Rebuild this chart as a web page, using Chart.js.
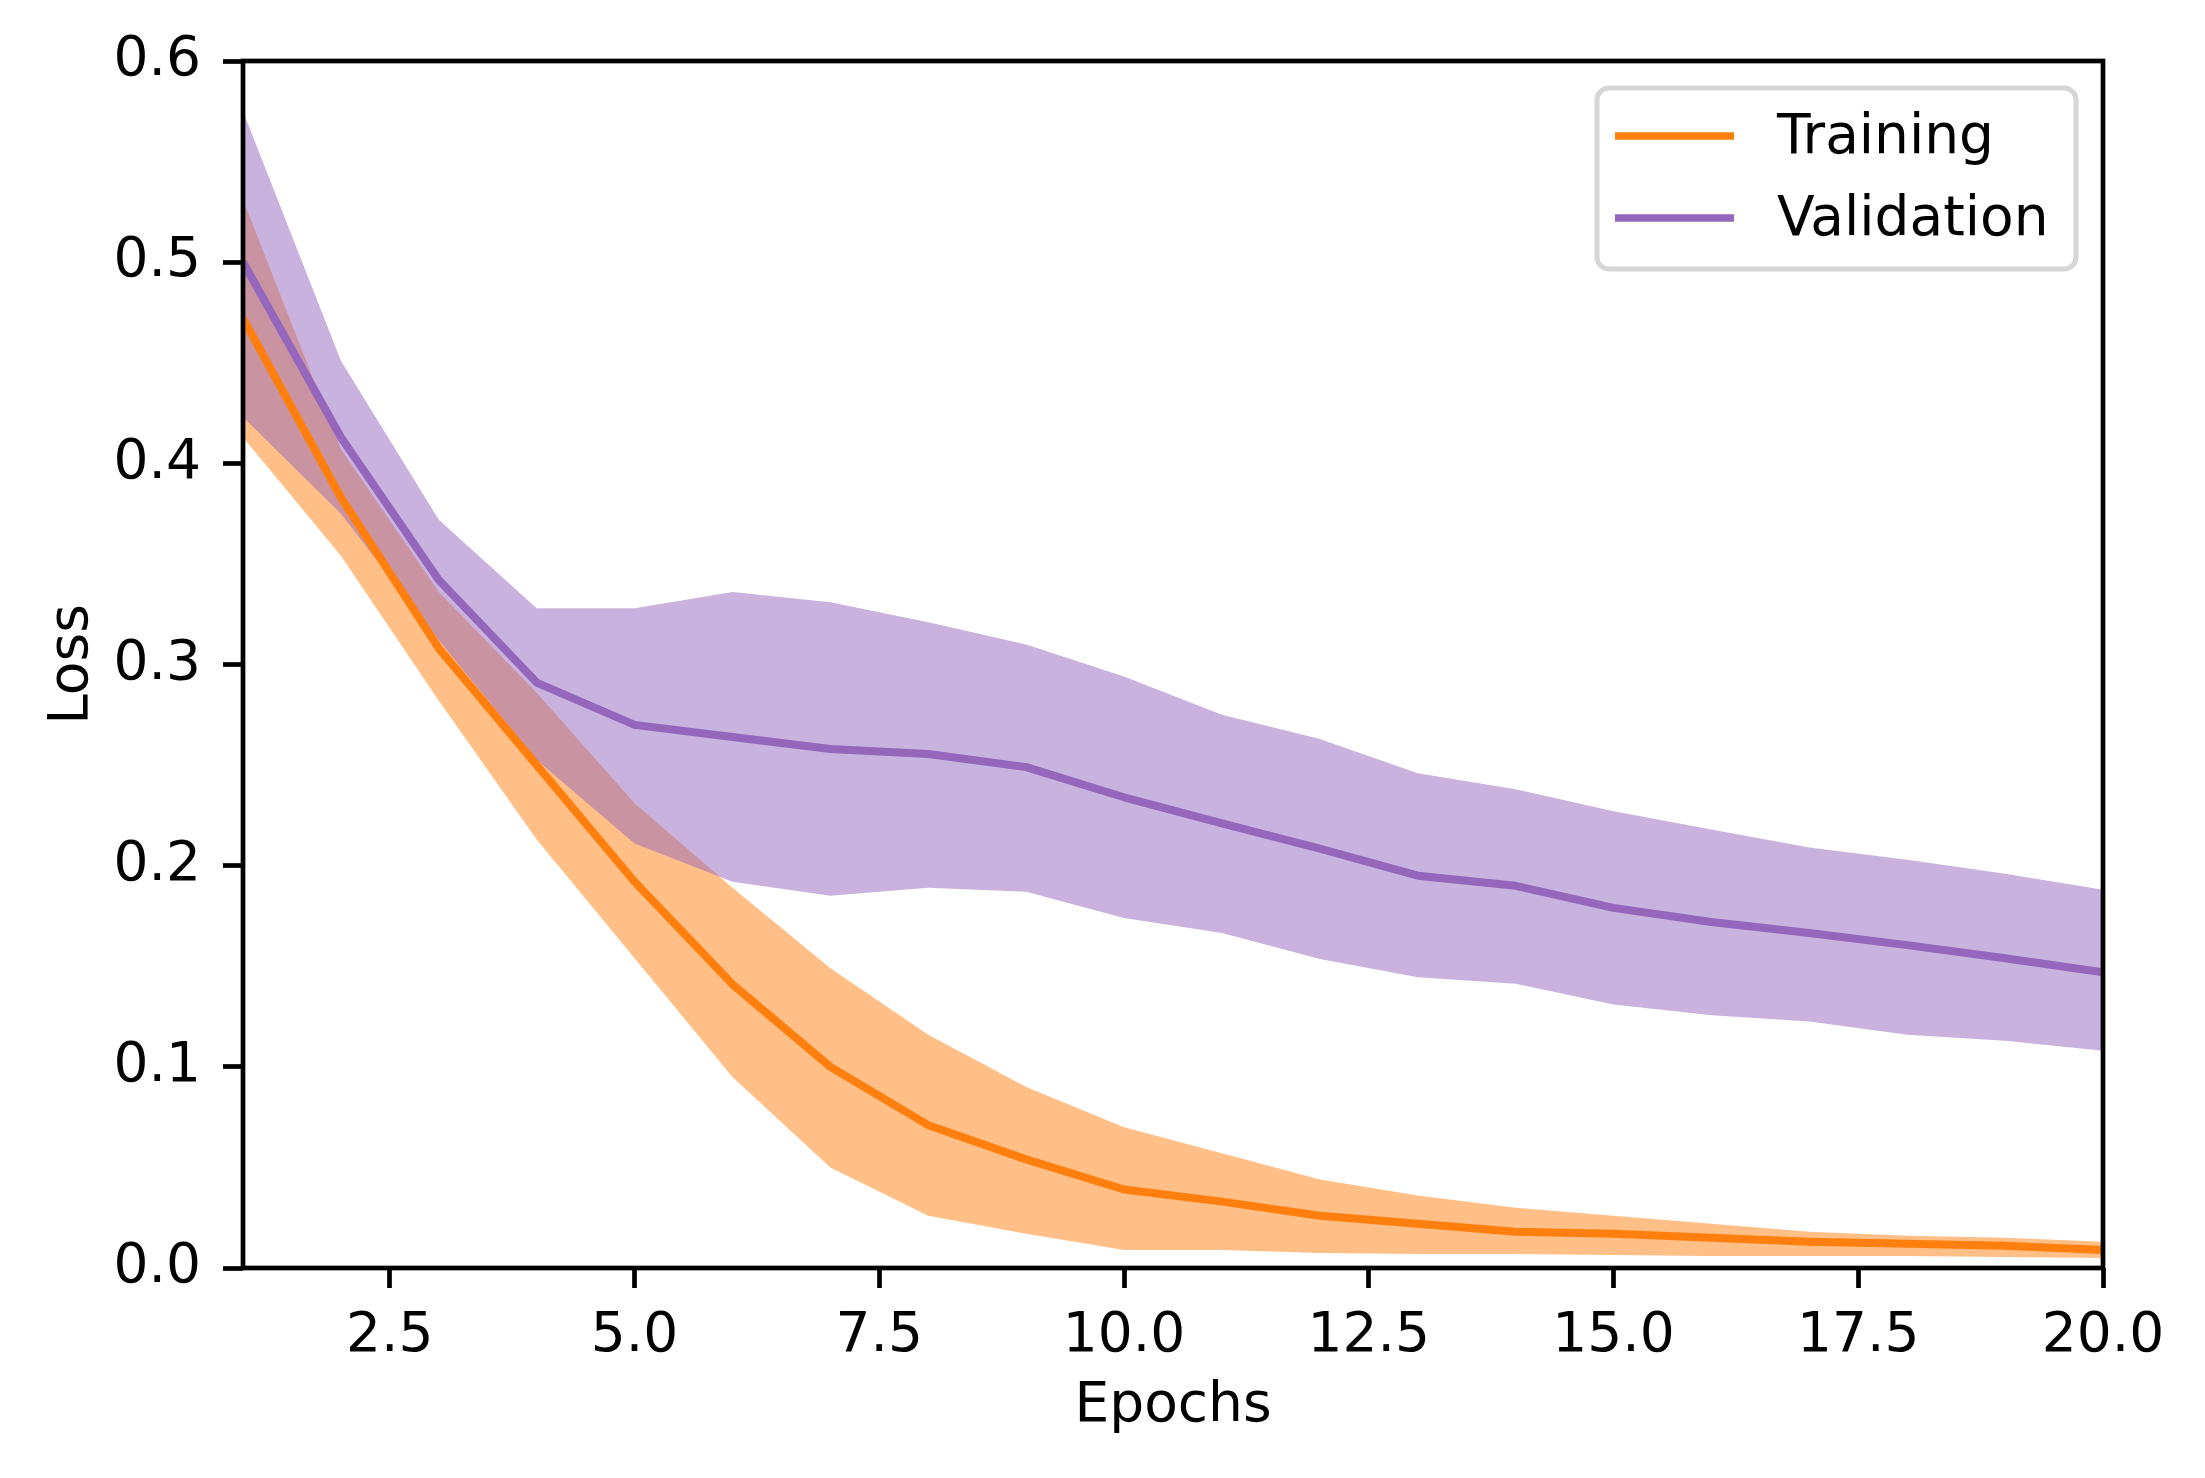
<!DOCTYPE html>
<html>
<head>
<meta charset="utf-8">
<title>Loss</title>
<script src="https://cdn.jsdelivr.net/npm/chart.js@4"></script>
<style>
  html, body { margin: 0; padding: 0; background: #fff; overflow: hidden; }
  canvas { display: block; }
</style>
</head>
<body>
<canvas id="chart" width="2205" height="1478" style="width:2205px;height:1478px"></canvas>
<script>
// values
var epochs = [1, 2, 3, 4, 5, 6, 7, 8, 9, 10, 11, 12, 13, 14, 15, 16, 17, 18, 19, 20];

var trainMean  = [0.472, 0.383, 0.308, 0.250, 0.192, 0.141, 0.100, 0.071, 0.054, 0.039, 0.033, 0.026, 0.022, 0.018, 0.017, 0.015, 0.013, 0.012, 0.011, 0.009];
var trainUpper = [0.531, 0.407, 0.336, 0.286, 0.231, 0.189, 0.149, 0.116, 0.090, 0.070, 0.057, 0.044, 0.036, 0.030, 0.026, 0.022, 0.018, 0.016, 0.015, 0.013];
var trainLower = [0.413, 0.354, 0.282, 0.213, 0.154, 0.095, 0.050, 0.026, 0.017, 0.009, 0.009, 0.0075, 0.007, 0.007, 0.0065, 0.006, 0.006, 0.006, 0.0055, 0.005];

var valMean  = [0.500, 0.413, 0.342, 0.291, 0.270, 0.264, 0.258, 0.2555, 0.249, 0.234, 0.221, 0.2085, 0.195, 0.190, 0.179, 0.172, 0.1665, 0.1605, 0.154, 0.147];
var valUpper = [0.575, 0.451, 0.372, 0.328, 0.328, 0.336, 0.331, 0.321, 0.310, 0.294, 0.275, 0.263, 0.246, 0.238, 0.227, 0.218, 0.209, 0.203, 0.196, 0.188];
var valLower = [0.423, 0.375, 0.312, 0.2525, 0.211, 0.192, 0.185, 0.189, 0.187, 0.174, 0.1665, 0.1536, 0.1445, 0.1413, 0.131, 0.1256, 0.1225, 0.116, 0.113, 0.108];

var xTicks = [2.5, 5.0, 7.5, 10.0, 12.5, 15.0, 17.5, 20.0];
var yTicks = [0.0, 0.1, 0.2, 0.3, 0.4, 0.5, 0.6];

var seriesNames = ['Training', 'Validation'];

var ORANGE = '#ff7f0e';
var PURPLE = '#9467bd';

function pts(ys) {
    return epochs.map(function (x, i) { return { x: x, y: ys[i] }; });
}

function band(ys, order, fillTo, color) {
    return {
        data: pts(ys),
        borderWidth: 0,
        borderColor: 'rgba(0,0,0,0)',
        backgroundColor: color,
        pointRadius: 0,
        fill: fillTo,
        order: order,
        isBand: true
    };
}

Chart.defaults.font.family = "'DejaVu Sans', sans-serif";
Chart.defaults.font.size = 55;
Chart.defaults.color = '#000';

// box around the axes, like matplotlib spines
var framePlugin = {
    id: 'frame',
    afterDatasetsDraw: function (chart) {
        var a = chart.chartArea, ctx = chart.ctx;
        ctx.save();
        ctx.strokeStyle = '#000';
        ctx.lineWidth = 4.7;
        ctx.strokeRect(a.left, a.top, a.right - a.left, a.bottom - a.top);
        ctx.restore();
    }
};

// legend box in the upper right corner of the axes
var legendPlugin = {
    id: 'boxLegend',
    afterDraw: function (chart) {
        var a = chart.chartArea, ctx = chart.ctx;
        var w = 479, h = 181;
        var left = a.right - 506, top = a.top + 27;
        ctx.save();
        ctx.fillStyle = 'rgba(255,255,255,0.8)';
        ctx.strokeStyle = '#d6d6d6';
        ctx.lineWidth = 5;
        ctx.beginPath();
        ctx.roundRect(left, top, w, h, 12);
        ctx.fill();
        ctx.stroke();
        var lines = chart.data.datasets.filter(function (d) { return !d.isBand; });
        lines.forEach(function (d, i) {
            var y = top + 48 + i * 82;
            ctx.strokeStyle = d.borderColor;
            ctx.lineWidth = 7.5;
            ctx.beginPath();
            ctx.moveTo(left + 18, y);
            ctx.lineTo(left + 137, y);
            ctx.stroke();
            ctx.fillStyle = '#000';
            ctx.font = "55px 'DejaVu Sans'";
            ctx.textAlign = 'left';
            ctx.textBaseline = 'middle';
            ctx.fillText(d.label, left + 180, y + 3);
        });
        ctx.restore();
    }
};

new Chart(document.getElementById('chart'), {
    type: 'line',
    data: {
        datasets: [
            band(trainUpper, 11, false, 'rgba(255,127,14,0.5)'),
            band(trainLower, 10, { target: 0 }, 'rgba(255,127,14,0.5)'),
            band(valUpper, 9, false, 'rgba(148,103,189,0.5)'),
            band(valLower, 8, { target: 2 }, 'rgba(148,103,189,0.5)'),
            {
                label: seriesNames[0],
                data: pts(trainMean),
                borderColor: ORANGE,
                borderWidth: 8,
                pointRadius: 0,
                fill: false,
                order: 1
            },
            {
                label: seriesNames[1],
                data: pts(valMean),
                borderColor: PURPLE,
                borderWidth: 8,
                pointRadius: 0,
                fill: false,
                order: 0
            }
        ]
    },
    options: {
        responsive: false,
        devicePixelRatio: 1,
        animation: false,
        layout: { padding: { left: 0, top: 61, right: 102, bottom: 0 } },
        elements: { line: { tension: 0, borderJoinStyle: 'round', borderCapStyle: 'butt' } },
        plugins: {
            legend: { display: false },
            tooltip: { enabled: false },
            filler: { drawTime: 'beforeDatasetsDraw', propagate: false }
        },
        scales: {
            x: {
                type: 'linear',
                min: 1,
                max: 20,
                border: { display: false },
                grid: { drawOnChartArea: false, drawTicks: true, tickLength: 20, tickWidth: 4.7, tickColor: '#000' },
                ticks: {
                    padding: 16,
                    maxRotation: 0,
                    autoSkip: false,
                    callback: function (v) { return v.toFixed(1); }
                },
                afterBuildTicks: function (s) { s.ticks = xTicks.map(function (v) { return { value: v }; }); },
                afterFit: function (s) { s.height = 210; },
                title: { display: true, text: 'Epochs', padding: { top: 0, bottom: 38 } }
            },
            y: {
                type: 'linear',
                min: 0,
                max: 0.6,
                border: { display: false },
                grid: { drawOnChartArea: false, drawTicks: true, tickLength: 20, tickWidth: 4.7, tickColor: '#000' },
                ticks: {
                    padding: 22,
                    autoSkip: false,
                    callback: function (v) { return v.toFixed(1); }
                },
                afterBuildTicks: function (s) { s.ticks = yTicks.map(function (v) { return { value: v }; }); },
                afterFit: function (s) { s.width = 243; },
                title: { display: true, text: 'Loss', padding: { top: 40, bottom: 0 } }
            }
        }
    },
    plugins: [framePlugin, legendPlugin]
});
</script>
</body>
</html>
